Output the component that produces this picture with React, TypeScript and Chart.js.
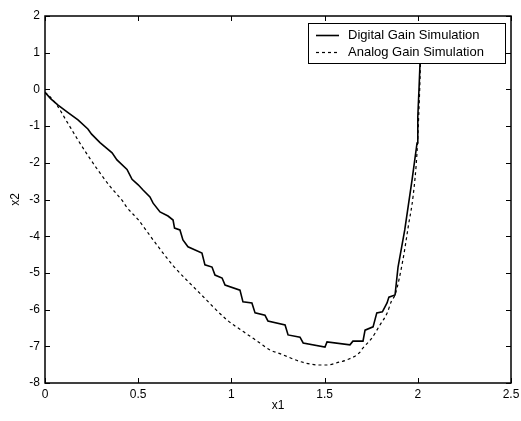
import React, { useEffect, useRef } from "react";
import { Chart, registerables } from "chart.js";

Chart.register(...registerables);

const digitalX = [0, 0.03, 0.07, 0.12, 0.177, 0.23, 0.25, 0.295, 0.33, 0.36, 0.386, 0.44, 0.467, 0.5, 0.526, 0.563, 0.58, 0.617, 0.66, 0.687, 0.695, 0.724, 0.74, 0.767, 0.842, 0.858, 0.896, 0.912, 0.95, 0.966, 1.046, 1.062, 1.11, 1.127, 1.18, 1.196, 1.288, 1.304, 1.368, 1.385, 1.502, 1.513, 1.636, 1.652, 1.706, 1.717, 1.76, 1.78, 1.81, 1.835, 1.845, 1.878, 1.894, 1.93, 1.969, 1.996, 2.0, 2.007, 2.012, 2.018];
const digitalY = [-0.08, -0.25, -0.43, -0.62, -0.83, -1.08, -1.22, -1.45, -1.6, -1.73, -1.92, -2.18, -2.45, -2.6, -2.74, -2.93, -3.1, -3.34, -3.45, -3.56, -3.78, -3.83, -4.1, -4.29, -4.46, -4.78, -4.84, -5.06, -5.14, -5.33, -5.47, -5.79, -5.82, -6.09, -6.15, -6.31, -6.42, -6.69, -6.75, -6.91, -7.02, -6.88, -6.96, -6.86, -6.86, -6.56, -6.47, -6.09, -6.06, -5.82, -5.66, -5.6, -4.84, -3.83, -2.47, -1.46, -0.75, 0.07, 0.72, 1.5];

const analogX = [0, 0.03, 0.064, 0.12, 0.177, 0.23, 0.284, 0.35, 0.413, 0.44, 0.5, 0.58, 0.687, 0.83, 0.976, 1.07, 1.153, 1.207, 1.26, 1.385, 1.475, 1.51, 1.58, 1.62, 1.69, 1.705, 1.75, 1.797, 1.835, 1.86, 1.878, 1.92, 1.95, 1.975, 1.996, 2.005, 2.012, 2.018];
const analogY = [-0.08, -0.22, -0.43, -0.9, -1.38, -1.8, -2.2, -2.65, -3.02, -3.22, -3.55, -4.1, -4.8, -5.55, -6.28, -6.62, -6.91, -7.1, -7.2, -7.44, -7.51, -7.51, -7.43, -7.37, -7.16, -7.05, -6.8, -6.42, -6.1, -5.75, -5.6, -4.65, -3.7, -2.9, -1.7, -0.7, 0.3, 1.5];

const seriesNames = ["Digital Gain Simulation", "Analog Gain Simulation"];
const xLabel = "x1";
const yLabel = "x2";

const FONT = "'Liberation Sans', Arial, Helvetica, sans-serif";

const framePlugin = {
  id: "frame",
  afterDatasetsDraw(chart: any) {
    const { ctx, chartArea: a, scales } = chart;
    ctx.save();
    ctx.strokeStyle = "#000";
    ctx.lineWidth = 1.5;
    ctx.strokeRect(a.left, a.top, a.right - a.left, a.bottom - a.top);
    ctx.lineWidth = 1;
    ctx.beginPath();
    for (const t of scales.x.ticks) {
      const px = Math.round(scales.x.getPixelForValue(t.value)) + 0.5;
      ctx.moveTo(px, a.bottom);
      ctx.lineTo(px, a.bottom - 5);
      ctx.moveTo(px, a.top);
      ctx.lineTo(px, a.top + 5);
    }
    for (const t of scales.y.ticks) {
      const py = Math.round(scales.y.getPixelForValue(t.value)) + 0.5;
      ctx.moveTo(a.left, py);
      ctx.lineTo(a.left + 5, py);
      ctx.moveTo(a.right, py);
      ctx.lineTo(a.right - 5, py);
    }
    ctx.stroke();
    ctx.restore();
  },
};

const legendPlugin = {
  id: "boxLegend",
  afterDraw(chart: any) {
    const { ctx, chartArea: a } = chart;
    const w = 197;
    const h = 40;
    const x0 = a.right - 6 - w;
    const y0 = a.top + 7;
    ctx.save();
    ctx.fillStyle = "#fff";
    ctx.fillRect(x0, y0, w, h);
    ctx.strokeStyle = "#000";
    ctx.lineWidth = 1;
    ctx.strokeRect(x0 + 0.5, y0 + 0.5, w, h);
    ctx.font = `13px ${FONT}`;
    ctx.fillStyle = "#000";
    ctx.textBaseline = "middle";
    const rows = [y0 + 12, y0 + 29];
    chart.data.datasets.forEach((ds: any, i: number) => {
      ctx.beginPath();
      ctx.lineWidth = ds.borderWidth;
      ctx.setLineDash(ds.borderDash || []);
      ctx.moveTo(x0 + 8, rows[i] + 0.5);
      ctx.lineTo(x0 + 31, rows[i] + 0.5);
      ctx.stroke();
      ctx.setLineDash([]);
      ctx.fillText(ds.label, x0 + 40, rows[i]);
    });
    ctx.restore();
  },
};

export default function App() {
  const ref = useRef<HTMLCanvasElement | null>(null);
  useEffect(() => {
    if (!ref.current) return;
    const chart = new Chart(ref.current, {
      type: "line",
      data: {
        datasets: [
          {
            label: seriesNames[0],
            data: digitalX.map((x, i) => ({ x, y: digitalY[i] })),
            borderColor: "#000",
            borderWidth: 1.6,
            pointRadius: 0,
            tension: 0,
            fill: false,
          },
          {
            label: seriesNames[1],
            data: analogX.map((x, i) => ({ x, y: analogY[i] })),
            borderColor: "#000",
            borderWidth: 1.2,
            borderDash: [3, 3],
            pointRadius: 0,
            cubicInterpolationMode: "monotone",
            fill: false,
          },
        ],
      },
      options: {
        responsive: false,
        animation: false,
        devicePixelRatio: 1,
        layout: { padding: { top: 16, right: 10, left: 8, bottom: 8 } },
        plugins: { legend: { display: false }, tooltip: { enabled: false } },
        scales: {
          x: {
            type: "linear",
            min: 0,
            max: 2.5,
            ticks: {
              stepSize: 0.5,
              color: "#000",
              font: { family: FONT, size: 12 },
              padding: 4,
              maxRotation: 0,
              callback: (v: any) => String(Number(v)),
            },
            grid: { display: false, drawTicks: false },
            border: { display: false },
            title: { display: true, text: xLabel, color: "#000", font: { family: FONT, size: 12 }, padding: 0 },
            afterFit: (s: any) => {
              s.height = 30;
              s.paddingLeft = 0;
              s.paddingRight = 0;
            },
          },
          y: {
            type: "linear",
            min: -8,
            max: 2,
            ticks: {
              stepSize: 1,
              color: "#000",
              font: { family: FONT, size: 12 },
              padding: 5,
              callback: (v: any) => String(Number(v)),
            },
            grid: { display: false, drawTicks: false },
            border: { display: false },
            title: { display: true, text: yLabel, color: "#000", font: { family: FONT, size: 12 }, padding: 0 },
            afterFit: (s: any) => {
              s.width = 37;
              s.paddingTop = 0;
              s.paddingBottom = 0;
            },
          },
        },
      },
      plugins: [framePlugin, legendPlugin],
    });
    return () => chart.destroy();
  }, []);
  return (
    <div style={{ position: "absolute", left: 0, top: 0, width: 521, height: 421 }}>
      <canvas ref={ref} width={521} height={421} style={{ display: "block" }} />
    </div>
  );
}
